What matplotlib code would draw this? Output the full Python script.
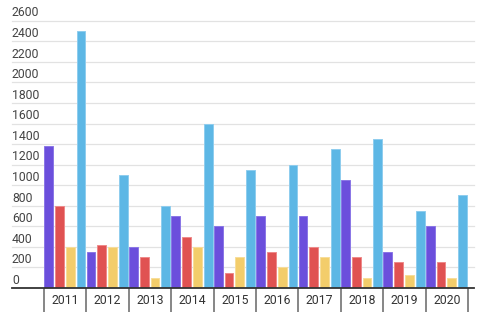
import matplotlib
matplotlib.use("Agg")
import matplotlib.pyplot as plt
import matplotlib.transforms as mtransforms
import numpy as np

years = ["2011", "2012", "2013", "2014", "2015", "2016", "2017", "2018", "2019", "2020"]
purple = [1380, 350, 400, 700, 600, 700, 700, 1050, 350, 600]
red = [800, 420, 300, 500, 150, 350, 400, 300, 250, 250]
yellow = [400, 400, 100, 400, 300, 200, 300, 100, 125, 100]
blue = [2500, 1100, 800, 1600, 1150, 1200, 1350, 1450, 750, 900]
yticks = list(range(0, 2601, 200))

series = [purple, red, yellow, blue]
colors = ["#6b4fdc", "#e05252", "#f3cd6b", "#5db7e5"]
edges = ["#8a76e6", "#ee8a8a", "#f7dd9a", "#8fcdee"]

W, H = 485, 331
fig = plt.figure(figsize=(W / 100, H / 100), dpi=100)
plt.rcParams['font.family'] = ['Roboto', 'DejaVu Sans']

# axes in pixel coordinates
x0, x1 = 12, 474
y_top, y_bot = 20.7, 288
ax = fig.add_axes([x0 / W, 1 - y_bot / H, (x1 - x0) / W, (y_bot - y_top) / H])

cat_w = 42.4
xl = (x0 - 44) / cat_w
xr = (x1 - 44) / cat_w
ax.set_xlim(xl, xr)
ax.set_ylim(0, 2600)

for k, (vals, c, e) in enumerate(zip(series, colors, edges)):
    lefts = np.arange(len(years)) + 0.005 + k * 0.255
    ax.bar(lefts, vals, width=0.205, align='edge', color=c, edgecolor=e,
           linewidth=0.7, zorder=3)

# gridlines
for t in yticks[1:]:
    ax.axhline(t, color="#e2e2e2", linewidth=0.9, zorder=1, clip_on=False)

# y labels above gridlines
ytrans = mtransforms.blended_transform_factory(ax.transAxes, ax.transData)
for t in yticks:
    ax.text(0.0, t + 12, str(t), transform=ytrans, ha='left', va='bottom',
            fontsize=8.8, color="#444444", clip_on=False)

for s in ["top", "right", "left"]:
    ax.spines[s].set_visible(False)
ax.spines["bottom"].set_color("#333333")
ax.spines["bottom"].set_linewidth(1.3)
ax.spines["bottom"].set_zorder(4)

ax.set_yticks([])
ax.set_xticks(np.arange(0, 11))
ax.set_xticklabels([])
ax.tick_params(axis='x', direction='out', length=24 * 0.72, width=1.1,
               color="#666666")

xtrans = mtransforms.blended_transform_factory(ax.transData, ax.transAxes)
for i, y in enumerate(years):
    ax.text(i + 0.5, -12 / (y_bot - y_top), y, transform=xtrans, ha='center',
            va='center', fontsize=8.8, color="#333333", clip_on=False)

fig.savefig("out.png", dpi=100)
